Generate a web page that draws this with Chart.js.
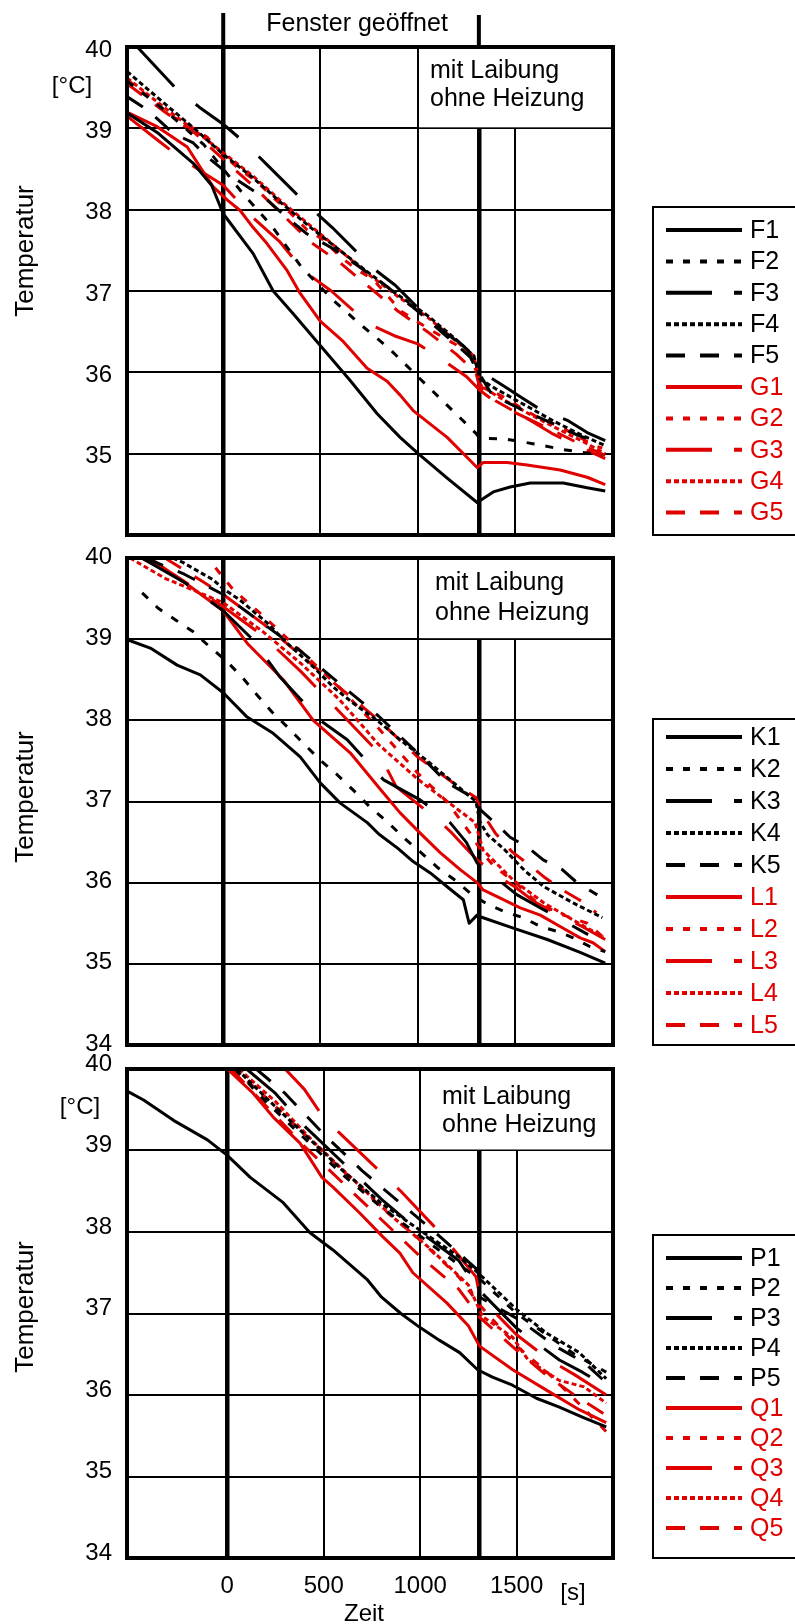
<!DOCTYPE html>
<html><head><meta charset="utf-8">
<script src="https://cdn.jsdelivr.net/npm/chart.js@4.4.1/dist/chart.umd.min.js"></script>
<style>
html,body{margin:0;padding:0;background:#fff;}
#wrap{position:relative;width:795px;height:1624px;overflow:hidden;background:#fff;}
canvas{position:absolute;left:0;}
</style></head><body><div id="wrap">
<canvas id="c1" style="top:0px" width="795" height="545"></canvas>
<canvas id="c2" style="top:545px" width="795" height="522"></canvas>
<canvas id="c3" style="top:1050px" width="795" height="574"></canvas>
</div>
<script>
// ---------- data (time [s], temperature [°C]) ----------
const NAMES_1 = ['F1','F2','F3','F4','F5','G1','G2','G3','G4','G5'];
const NAMES_2 = ['K1','K2','K3','K4','K5','L1','L2','L3','L4','L5'];
const NAMES_3 = ['P1','P2','P3','P4','P5','Q1','Q2','Q3','Q4','Q5'];
const X_TICKS = [0, 500, 1000, 1500];
const Y_TICKS = [34, 35, 36, 37, 38, 39, 40];
const WINDOW_OPEN = 0;
const WINDOW_CLOSE = [1315, 1315, 1305];
const TITLE_TOP = 'Fenster geöffnet';
const BOX_TEXT = ['mit Laibung', 'ohne Heizung'];

const F1 = [[-495,39.19],[-340,38.95],[-154,38.57],[-60,38.3],[0,37.95],[154,37.46],[257,37.0],[360,36.72],[499,36.33],[653,35.9],[792,35.49],[910,35.2],[1003,35.0],[1152,34.7],[1306,34.4],[1320,34.42],[1389,34.53],[1476,34.59],[1579,34.64],[1749,34.64],[1872,34.58],[1965,34.54]];
const F2 = [[-495,39.58],[-300,39.22],[-100,38.8],[0,38.5],[100,38.2],[250,37.8],[400,37.3],[560,36.9],[700,36.6],[850,36.3],[1000,35.95],[1150,35.6],[1300,35.25],[1320,35.19],[1450,35.18],[1600,35.12],[1750,35.05],[1950,34.98]];
const F3 = [[-442,40.0],[-247,39.5],[-123,39.26],[0,39.05],[113,38.82],[226,38.55],[437,38.05],[561,37.78],[766,37.29],[885,37.07],[998,36.8],[1142,36.48],[1219,36.36],[1260,36.27],[1296,36.06],[1322,35.94],[1358,35.96],[1451,35.82],[1528,35.7],[1620,35.56],[1770,35.41],[1872,35.26],[1965,35.16]];
const F4 = [[-495,39.7],[-300,39.3],[-150,39.0],[0,38.68],[150,38.4],[300,38.08],[450,37.78],[600,37.5],[750,37.22],[900,36.95],[1050,36.7],[1200,36.4],[1290,36.2],[1320,35.92],[1400,35.8],[1550,35.6],[1700,35.4],[1850,35.22],[1965,35.1]];
const F5 = [[-495,39.39],[-412,39.26],[-340,39.12],[-257,38.94],[-154,38.82],[-82,38.65],[20,38.45],[87,38.34],[226,38.12],[329,37.9],[432,37.7],[566,37.52],[705,37.29],[823,37.09],[977,36.8],[1131,36.48],[1270,36.19],[1306,36.03],[1373,35.76],[1460,35.63],[1563,35.51],[1697,35.37],[1820,35.23],[1939,35.13]];
const G1 = [[-495,39.2],[-340,39.02],[-185,38.77],[-118,38.52],[-51,38.28],[20,38.12],[87,37.99],[154,37.78],[226,37.58],[329,37.25],[396,36.97],[499,36.63],[617,36.38],[740,36.05],[843,35.89],[910,35.72],[977,35.53],[1152,35.2],[1306,34.83],[1337,34.89],[1460,34.89],[1563,34.86],[1733,34.8],[1872,34.71],[1965,34.62]];
const G2 = [[-495,39.6],[-257,39.14],[-154,39.0],[-82,38.89],[0,38.67],[87,38.49],[175,38.34],[257,38.15],[345,37.96],[432,37.75],[515,37.63],[602,37.42],[690,37.26],[772,37.14],[843,36.95],[910,36.76],[1013,36.6],[1131,36.43],[1219,36.31],[1270,36.19],[1306,35.99],[1322,35.82],[1373,35.78],[1440,35.7],[1528,35.57],[1615,35.45],[1733,35.33],[1836,35.2],[1902,35.1],[1950,35.07]];
const G3 = [[-495,39.15],[-340,38.86],[-237,38.67],[-100,38.45],[0,38.3],[154,37.9],[293,37.6],[412,37.25],[556,37.0],[745,36.6],[880,36.45],[1000,36.35],[1100,36.2],[1250,35.95],[1320,35.78],[1420,35.6],[1550,35.45],[1690,35.25],[1800,35.12],[1965,34.94]];
const G4 = [[-495,39.62],[-300,39.25],[-150,38.98],[0,38.7],[150,38.42],[300,38.1],[450,37.8],[600,37.5],[750,37.2],[900,36.93],[1050,36.68],[1200,36.38],[1290,36.2],[1320,35.85],[1400,35.72],[1550,35.52],[1700,35.33],[1850,35.15],[1965,35.0]];
const G5 = [[-495,39.55],[-300,39.2],[-150,38.95],[0,38.62],[150,38.3],[300,37.95],[450,37.6],[600,37.35],[750,37.05],[900,36.75],[1050,36.5],[1200,36.22],[1300,36.0],[1320,35.8],[1400,35.65],[1550,35.45],[1700,35.28],[1850,35.1],[1965,34.98]];

const K1 = [[-489,38.99],[-375,38.89],[-237,38.68],[-118,38.56],[0,38.34],[123,38.04],[257,37.84],[396,37.55],[499,37.23],[602,36.98],[741,36.74],[800,36.6],[900,36.42],[977,36.26],[1065,36.12],[1152,35.95],[1235,35.79],[1265,35.5],[1306,35.6],[1322,35.58],[1492,35.44],[1667,35.3],[1836,35.14],[1965,35.01]];
const K2 = [[-417,39.57],[-334,39.38],[-247,39.24],[-154,39.09],[-67,38.9],[21,38.72],[98,38.53],[175,38.31],[252,38.1],[329,37.92],[411,37.72],[499,37.51],[586,37.33],[669,37.14],[756,36.93],[844,36.75],[926,36.56],[1013,36.38],[1106,36.18],[1193,36.03],[1281,35.85],[1363,35.73],[1461,35.63],[1543,35.57],[1631,35.46],[1718,35.4],[1800,35.32],[1888,35.21],[1965,35.15]];
const K3 = [[-420,40.0],[-200,39.7],[0,39.35],[150,39.0],[293,38.53],[499,38.0],[638,37.76],[823,37.27],[1013,37.02],[1167,36.74],[1250,36.5],[1306,36.24],[1512,35.85],[1646,35.67],[1877,35.36]];
const K4 = [[-260,40.0],[-211,39.95],[-51,39.73],[0,39.62],[87,39.48],[226,39.2],[329,38.95],[463,38.66],[566,38.41],[669,38.21],[792,38.0],[910,37.76],[1050,37.5],[1200,37.2],[1300,37.0],[1320,36.75],[1360,36.59],[1450,36.4],[1550,36.15],[1650,35.95],[1800,35.75],[1950,35.57]];
const K5 = [[-400,40.0],[-200,39.8],[0,39.55],[200,39.2],[400,38.85],[600,38.45],[800,38.05],[1000,37.6],[1152,37.23],[1306,37.02],[1322,36.9],[1410,36.71],[1476,36.56],[1569,36.43],[1646,36.28],[1744,36.16],[1820,36.0],[1924,35.85]];
const L1 = [[-360,39.97],[-200,39.7],[0,39.35],[123,38.95],[309,38.5],[463,38.0],[653,37.6],[808,37.15],[910,36.86],[1013,36.61],[1116,36.37],[1219,36.16],[1306,36.0],[1337,35.91],[1425,35.81],[1528,35.69],[1631,35.6],[1733,35.46],[1836,35.32],[1902,35.26],[1965,35.15]];
const L2 = [[-40,39.88],[51,39.61],[200,39.3],[400,38.85],[600,38.4],[800,37.9],[1000,37.35],[1150,37.0],[1270,36.61],[1330,36.38],[1393,36.2],[1465,36.07],[1528,35.95],[1615,35.75],[1750,35.6],[1872,35.5],[1955,35.33]];
const L3 = [[-420,40.0],[-257,39.8],[0,39.4],[200,39.05],[400,38.6],[600,38.1],[800,37.6],[890,37.18],[1116,36.75],[1177,36.61],[1306,36.28],[1400,36.1],[1500,35.95],[1610,35.75],[1846,35.46],[1965,35.3]];
const L4 = [[-480,40.0],[-300,39.75],[0,39.45],[200,39.1],[400,38.7],[600,38.25],[800,37.7],[1003,37.27],[1296,36.74],[1337,36.4],[1492,36.03],[1650,35.75],[1800,35.54],[1955,35.33]];
const L5 = [[-300,40.0],[-100,39.7],[0,39.55],[200,39.2],[400,38.8],[600,38.4],[800,38.0],[1000,37.55],[1200,37.2],[1300,37.05],[1332,36.86],[1400,36.61],[1486,36.38],[1563,36.24],[1656,36.06],[1744,35.91],[1831,35.79],[1919,35.63]];

const P1 = [[-512,39.72],[-434,39.62],[-279,39.37],[-103,39.13],[0,38.94],[119,38.67],[290,38.36],[429,37.99],[548,37.78],[724,37.42],[800,37.2],[900,37.0],[998,36.83],[1101,36.67],[1205,36.52],[1298,36.31],[1375,36.22],[1479,36.12],[1603,35.96],[1722,35.85],[1841,35.73],[1965,35.61]];
const P2 = [[40,40.0],[200,39.6],[400,39.15],[600,38.7],[800,38.3],[1000,37.95],[1200,37.6],[1320,37.4],[1500,37.0],[1650,36.75],[1800,36.5],[1965,36.28]];
const P3 = [[100,40.0],[250,39.7],[400,39.3],[600,38.85],[800,38.4],[1000,38.0],[1200,37.65],[1300,37.3],[1500,36.82],[1722,36.43],[1841,36.28],[1965,36.1]];
const P4 = [[50,40.0],[200,39.65],[400,39.2],[600,38.75],[800,38.35],[1000,38.02],[1200,37.7],[1300,37.5],[1500,37.05],[1655,36.76],[1825,36.52],[1965,36.2]];
const P5 = [[150,40.0],[300,39.7],[500,39.2],[700,38.75],[900,38.35],[1100,37.95],[1290,37.55],[1310,37.2],[1515,36.92],[1700,36.6],[1850,36.4],[1965,36.15]];
const Q1 = [[0,40.0],[135,39.7],[238,39.41],[377,39.09],[491,38.67],[548,38.55],[688,38.23],[807,37.94],[895,37.74],[962,37.5],[1138,37.13],[1250,36.85],[1308,36.6],[1480,36.31],[1655,36.06],[1825,35.82],[1965,35.66]];
const Q2 = [[30,40.0],[200,39.65],[400,39.2],[600,38.75],[800,38.3],[1000,37.9],[1200,37.45],[1310,37.1],[1500,36.6],[1650,36.3],[1800,35.95],[1965,35.55]];
const Q3 = [[300,40.0],[400,39.75],[500,39.4],[700,38.95],[900,38.5],[1100,38.0],[1290,37.45],[1310,37.2],[1500,36.74],[1670,36.43],[1800,36.25],[1965,36.0]];
const Q4 = [[60,40.0],[250,39.6],[450,39.1],[650,38.65],[850,38.2],[1050,37.8],[1250,37.35],[1324,36.96],[1479,36.71],[1560,36.43],[1720,36.18],[1850,36.1],[1965,35.9]];
const Q5 = [[20,40.0],[200,39.55],[400,39.05],[600,38.6],[800,38.15],[1000,37.7],[1200,37.3],[1310,36.95],[1500,36.55],[1650,36.25],[1800,36.0],[1965,35.75]];

// ---------- styles ----------
const FONT = '"Liberation Sans", Arial, Helvetica, sans-serif';
const BLACK = '#000000', RED = '#e00000';
const DASHES = [[], [8, 11], [54, 28], [5, 3], [19, 16]];
const LEGEND_DASHES = [[], [7, 10], [46, 22], [5, 3], [19, 15]];
Chart.defaults.font.family = FONT;
Chart.defaults.color = '#000';

const PANELS = [
  { id:'c1', names:NAMES_1, series:[F1,F2,F3,F4,F5,G1,G2,G3,G4,G5], xr:[-495,2005], close:WINDOW_CLOSE[0],
    pad:{top:47,bottom:10}, xh:0, yOff:3, hide34:true, showX:false, unit:[72,86],
    box:{tx:303, ty1:24, ty2:52}, legend:{top:207, row0:230, step:31.4}, titleY:251, top:true },
  { id:'c2', names:NAMES_2, series:[K1,K2,K3,K4,K5,L1,L2,L3,L4,L5], xr:[-495,2005], close:WINDOW_CLOSE[1],
    pad:{top:13,bottom:22}, xh:0, yOff:-1, hide34:false, showX:false, unit:null,
    box:{tx:308, ty1:25, ty2:55}, legend:{top:174, row0:192, step:32}, titleY:252, top:false },
  { id:'c3', names:NAMES_3, series:[P1,P2,P3,P4,P5,Q1,Q2,Q3,Q4,Q5], xr:[-520,2000], close:WINDOW_CLOSE[2],
    pad:{top:19,bottom:0}, xh:66, yOff:-5, hide34:false, showX:true, unit:[80,57],
    box:{tx:315, ty1:28, ty2:56}, legend:{top:185, row0:208, step:30}, titleY:257, top:false }
];

const deco = {
  id: 'deco',
  beforeDatasetsDraw(chart, args, o) {
    const {ctx, chartArea: a, scales: {x, y}} = chart;
    const bx = x.getPixelForValue(1000), by = y.getPixelForValue(39);
    ctx.save();
    ctx.fillStyle = '#fff';
    ctx.fillRect(bx + 1.5, a.top + 2, a.right - bx - 3.5, by - a.top - 3);
    ctx.fillStyle = '#000';
    ctx.font = '25px ' + FONT;
    ctx.textBaseline = 'middle'; ctx.textAlign = 'left';
    ctx.fillText(BOX_TEXT[0], a.left + o.box.tx, a.top + o.box.ty1);
    ctx.fillText(BOX_TEXT[1], a.left + o.box.tx, a.top + o.box.ty2);
    ctx.restore();
  },
  afterDatasetsDraw(chart, args, o) {
    const {ctx, chartArea: a, scales: {x}} = chart;
    ctx.save();
    // frame
    ctx.strokeStyle = '#000'; ctx.lineWidth = 4; ctx.setLineDash([]);
    ctx.strokeRect(a.left, a.top, a.right - a.left, a.bottom - a.top);
    // window marks above top panel
    if (o.top) {
      ctx.lineWidth = 4;
      const x0 = x.getPixelForValue(WINDOW_OPEN), x1 = x.getPixelForValue(o.close);
      ctx.beginPath(); ctx.moveTo(x0, 13); ctx.lineTo(x0, a.top); ctx.stroke();
      ctx.beginPath(); ctx.moveTo(x1, 15); ctx.lineTo(x1, a.top); ctx.stroke();
      ctx.font = '25px ' + FONT; ctx.fillStyle = '#000';
      ctx.textAlign = 'center'; ctx.textBaseline = 'alphabetic';
      ctx.fillText(TITLE_TOP, (x0 + x1) / 2 + 6, 31);
    }
    // y title
    ctx.fillStyle = '#000';
    ctx.font = '26px ' + FONT;
    ctx.save();
    ctx.translate(26, o.titleY); ctx.rotate(-Math.PI / 2);
    ctx.textAlign = 'center'; ctx.textBaseline = 'middle';
    ctx.fillText('Temperatur', 0, 0);
    ctx.restore();
    if (o.unit) {
      ctx.font = '24px ' + FONT; ctx.textAlign = 'center'; ctx.textBaseline = 'middle';
      ctx.fillText('[°C]', o.unit[0], o.unit[1]);
    }
    if (o.showX) {
      ctx.font = '24px ' + FONT; ctx.textAlign = 'center'; ctx.textBaseline = 'middle';
      ctx.fillText('[s]', 573, a.bottom + 35);
      ctx.fillText('Zeit', 364, a.bottom + 56);
    }
    // legend
    const L = o.legend;
    ctx.lineWidth = 2; ctx.strokeStyle = '#000';
    ctx.strokeRect(653, L.top, 160, a.bottom - L.top);
    chart.data.datasets.forEach((d, i) => {
      const yy = L.row0 + i * L.step;
      ctx.strokeStyle = d.borderColor; ctx.lineWidth = 4;
      ctx.setLineDash(LEGEND_DASHES[i % 5]); ctx.lineDashOffset = 0;
      ctx.beginPath(); ctx.moveTo(666, yy); ctx.lineTo(742, yy); ctx.stroke();
      ctx.setLineDash([]);
      ctx.fillStyle = d.borderColor; ctx.font = '25px ' + FONT;
      ctx.textAlign = 'left'; ctx.textBaseline = 'middle';
      ctx.fillText(d.label, 750, yy + 1);
    });
    ctx.restore();
  }
};

PANELS.forEach(p => {
  const datasets = p.series.map((s, i) => ({
    label: p.names[i],
    data: s.map(([t, v]) => ({x: t, y: v})),
    borderColor: i < 5 ? BLACK : RED,
    borderWidth: 3,
    borderDash: DASHES[i % 5],
    borderCapStyle: 'butt',
    borderJoinStyle: 'round',
    pointRadius: 0,
    fill: false,
    tension: 0
  }));
  const ticksX = X_TICKS.concat([p.close]).sort((a, b) => a - b);
  new Chart(document.getElementById(p.id), {
    type: 'line',
    data: { datasets },
    options: {
      responsive: false, animation: false, devicePixelRatio: 1,
      layout: { padding: { left: 0, right: 182, top: p.pad.top, bottom: p.pad.bottom } },
      plugins: { legend: { display: false }, tooltip: { enabled: false }, deco: p },
      scales: {
        x: {
          type: 'linear', min: p.xr[0], max: p.xr[1],
          afterBuildTicks: s => { s.ticks = ticksX.map(v => ({ value: v })); },
          afterFit: s => { s.height = p.xh; s.paddingLeft = 0; s.paddingRight = 0; s.paddingTop = 0; s.paddingBottom = 0; },
          border: { display: false },
          grid: { color: '#000', drawTicks: false,
                  lineWidth: c => (c.tick && (c.tick.value === WINDOW_OPEN || c.tick.value === p.close)) ? 4.5 : 2 },
          ticks: { display: p.showX, autoSkip: false, maxRotation: 0, padding: 14,
                   font: { size: 24, family: FONT }, color: '#000',
                   callback: v => (v === p.close ? '' : String(v)) }
        },
        y: {
          min: 34, max: 40,
          afterBuildTicks: s => { s.ticks = Y_TICKS.map(v => ({ value: v })); },
          afterFit: s => { s.width = 127; s.paddingTop = 0; s.paddingBottom = 0; s.paddingLeft = 0; s.paddingRight = 0; },
          border: { display: false },
          grid: { color: '#000', lineWidth: 2, drawTicks: false },
          ticks: { padding: 15, labelOffset: p.yOff, font: { size: 24, family: FONT }, color: '#000',
                   callback: v => (p.hide34 && v === 34 ? '' : String(v)) }
        }
      }
    },
    plugins: [deco]
  });
});
</script>
</body></html>
